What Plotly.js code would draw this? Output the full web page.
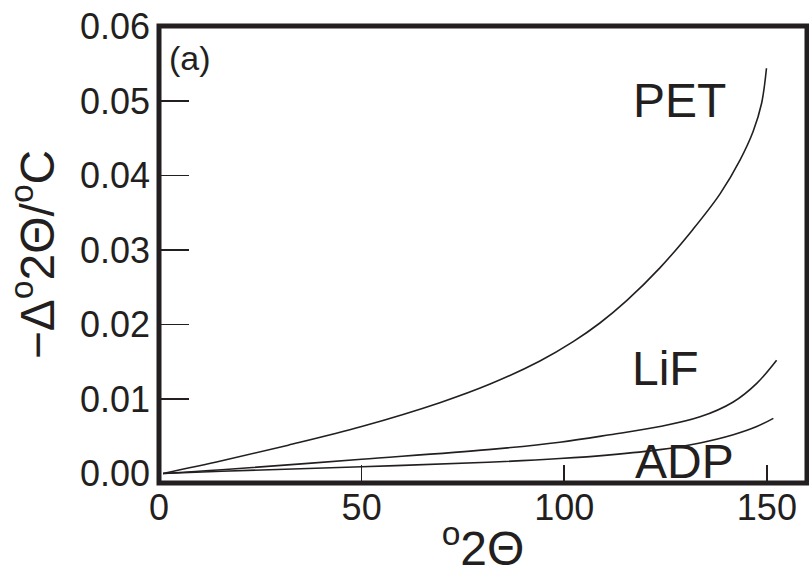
<!DOCTYPE html>
<html>
<head>
<meta charset="utf-8">
<script src="https://cdn.plot.ly/plotly-3.0.1.min.js"></script>
<style>html,body{margin:0;padding:0;background:#fff}#chart{width:809px;height:577px}</style>
</head>
<body>
<div id="chart"></div>
<script>
// Data
const petX = [1, 15.5, 31.9, 50, 69.3, 81.7, 94.0, 102.2, 108.8, 115.4, 123.6, 131.8, 138.4, 143.4, 146.6, 148.7, 149.9];
const petY = [0, 0.0017, 0.0038, 0.0063, 0.0095, 0.0120, 0.0151, 0.0177, 0.0202, 0.0232, 0.0276, 0.0328, 0.0375, 0.0421, 0.0459, 0.0497, 0.0544];
const lifX = [1, 15.5, 50, 81.2, 98.9, 111.3, 123.6, 133.5, 141.7, 147.5, 152.4];
const lifY = [0, 0.0005, 0.0019, 0.0032, 0.0042, 0.0052, 0.0063, 0.0076, 0.0096, 0.0121, 0.0152];
const adpX = [1, 15.5, 50, 81.2, 98.9, 111.3, 123.6, 133.5, 141.7, 147.5, 151.6];
const adpY = [0, 0.0003, 0.0009, 0.0015, 0.0020, 0.0025, 0.0032, 0.0041, 0.0052, 0.0063, 0.0074];

const xTickVals = [0, 50, 100, 150];
const xTickText = ['0', '50', '100', '150'];
const yLabelVals = [0, 0.01, 0.02, 0.03, 0.04, 0.05, 0.06];
const yLabelText = ['0.00', '0.01', '0.02', '0.03', '0.04', '0.05', '0.06'];
const yTickMarkVals = [0.01, 0.02, 0.03, 0.04, 0.05];

const seriesLabels = ['PET', 'LiF', 'ADP'];
const labelX = [128.4, 125, 129.6];
const labelY = [0.0501, 0.0141, 0.0016];

const INK = '#231f20';
const FONT = 'Liberation Sans, Arial, Helvetica, sans-serif';

function curve(x, y, name) {
  return {x: x, y: y, name: name, type: 'scatter', mode: 'lines',
    line: {color: INK, width: 1.6, shape: 'spline', smoothing: 1},
    showlegend: false, hoverinfo: 'skip', xaxis: 'x', yaxis: 'y'};
}

const traces = [
  curve(petX, petY, 'PET'),
  curve(lifX, lifY, 'LiF'),
  curve(adpX, adpY, 'ADP'),
  {x: [null], y: [null], type: 'scatter', mode: 'lines', xaxis: 'x', yaxis: 'y2',
   showlegend: false, hoverinfo: 'skip'}
];

const yRange = [-0.00128, 0.06007];
const xRange = [0, 159.9];

const annotations = seriesLabels.map((t, i) => ({
  x: labelX[i], y: labelY[i], xref: 'x', yref: 'y', text: t, showarrow: false,
  xanchor: 'center', yanchor: 'middle', font: {family: FONT, size: 48, color: INK}
}));
annotations.push({x: 7.7, y: 0.0558, xref: 'x', yref: 'y', text: '(a)', showarrow: false,
  xanchor: 'center', yanchor: 'middle', font: {family: FONT, size: 34, color: INK}});

const layout = {
  width: 809, height: 577,
  margin: {l: 159, r: 2, t: 26, b: 94, pad: 0},
  paper_bgcolor: '#fff', plot_bgcolor: '#fff',
  font: {family: FONT, color: INK},
  xaxis: {
    range: xRange, showgrid: false, zeroline: false, showline: false,
    tickmode: 'array', tickvals: xTickVals, ticktext: xTickText,
    ticks: 'inside', ticklen: 18, tickwidth: 1.6, tickcolor: INK,
    tickfont: {family: FONT, size: 36, color: INK},
    title: {text: '<sup>o</sup>2Θ', font: {family: FONT, size: 48, color: INK}, standoff: 4}
  },
  yaxis: {
    range: yRange, showgrid: false, zeroline: false, showline: false,
    tickmode: 'array', tickvals: yLabelVals, ticktext: yLabelText,
    ticks: '', ticklabelstandoff: 8, tickfont: {family: FONT, size: 36, color: INK},
    title: {text: '−Δ<sup>o</sup>2Θ/<sup>o</sup>C', font: {family: FONT, size: 48, color: INK}, standoff: 10}
  },
  yaxis2: {
    range: yRange, overlaying: 'y', anchor: 'x', side: 'left',
    showgrid: false, zeroline: false, showline: false, showticklabels: false,
    tickmode: 'array', tickvals: yTickMarkVals,
    ticks: 'inside', ticklen: 30, tickwidth: 1.6, tickcolor: INK
  },
  shapes: [{type: 'rect', xref: 'paper', yref: 'paper', x0: 0, x1: 1, y0: 0, y1: 1,
    line: {color: INK, width: 5}, layer: 'above'}],
  annotations: annotations
};

Plotly.newPlot('chart', traces, layout, {staticPlot: true, displayModeBar: false});
</script>
</body>
</html>
